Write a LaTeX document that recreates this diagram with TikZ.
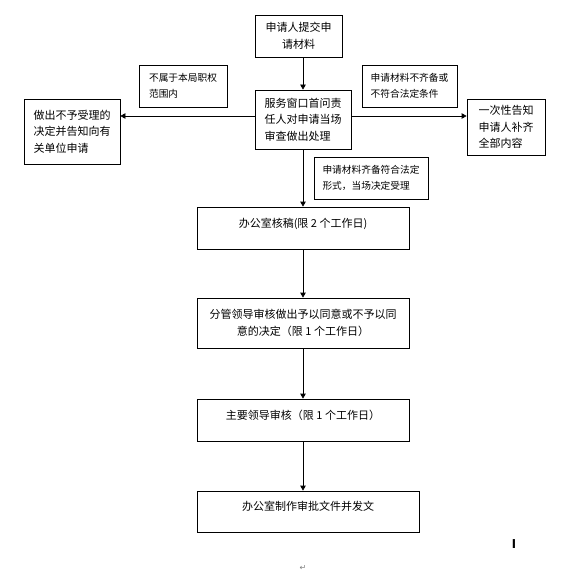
\documentclass[tikz,border=0pt]{standalone}
\usepackage{fontspec}
\setmainfont{Noto Sans CJK SC}
\newfontfamily\dejavu{DejaVu Sans}
\usetikzlibrary{arrows.meta}
\begin{document}
\begin{tikzpicture}[x=1pt,y=-1pt,
  box/.style={draw,line width=0.8pt,inner sep=0pt,font=\fontsize{11}{16.5}\selectfont},
  topbox/.style={box,text height=8pt,text depth=10pt},
  lab/.style={draw,line width=0.8pt,inner sep=0pt,align=left,font=\fontsize{9.7}{16.5}\selectfont},
  conn/.style={line width=0.8pt,-{Triangle[length=5pt,width=5.5pt]}}]
\useasboundingbox (0,0) rectangle (581,583);
\node[box,minimum width=87pt,minimum height=42pt,align=center] (A) at (298.5,36) {申请人提交申\\请材料};
\node[box,minimum width=96pt,minimum height=59pt,align=left] (B) at (303,119.5) {服务窗口首问责\\任人对申请当场\\审查做出处理};
\node[box,minimum width=96pt,minimum height=65pt,align=left] (L) at (72,131.5) {做出不予受理的\\决定并告知向有\\关单位申请};
\node[box,minimum width=78pt,minimum height=56pt,align=left] (R) at (506,127) {一次性告知\\申请人补齐\\全部内容};
\node[lab,minimum width=88pt,minimum height=42pt] (LL) at (183,86) {不属于本局职权\\范围内};
\node[lab,minimum width=95pt,minimum height=42pt] (RL) at (409.5,86) {申请材料不齐备或\\不符合法定条件};
\node[lab,minimum width=114pt,minimum height=42pt] (ML) at (371,178) {申请材料齐备符合法定\\形式，当场决定受理};
\node[topbox,minimum width=212pt,minimum height=42pt] (C) at (303,228) {办公室核稿(限 2 个工作日)};
\node[box,minimum width=212pt,minimum height=50pt,align=center] (D) at (303,323) {分管领导审核做出予以同意或不予以同\\意的决定（限 1 个工作日）};
\node[topbox,minimum width=212pt,minimum height=42pt] (E) at (303,420) {主要领导审核（限 1 个工作日）};
\node[topbox,minimum width=222pt,minimum height=41pt] (F) at (308,511.5) {办公室制作审批文件并发文};
\node[font=\fontsize{12}{12}\selectfont\bfseries] (cur) at (514,544) {I};
\node[font=\dejavu\fontsize{8}{8}\selectfont,text=gray] (pm) at (303,568) {↵};
\draw[conn] (B.north |- A.south) -- (B.north);
\draw[conn] ([yshift=3.5pt]B.west) -- ([yshift=3.5pt]B.west -| L.east);
\draw[conn] ([yshift=3.5pt]B.east) -- ([yshift=3.5pt]B.east -| R.west);
\draw[conn] (B.south) -- (C.north);
\draw[conn] (C.south) -- (D.north);
\draw[conn] (D.south) -- (E.north);
\draw[conn] (E.south) -- (E.south |- F.north);
\end{tikzpicture}
\end{document}
